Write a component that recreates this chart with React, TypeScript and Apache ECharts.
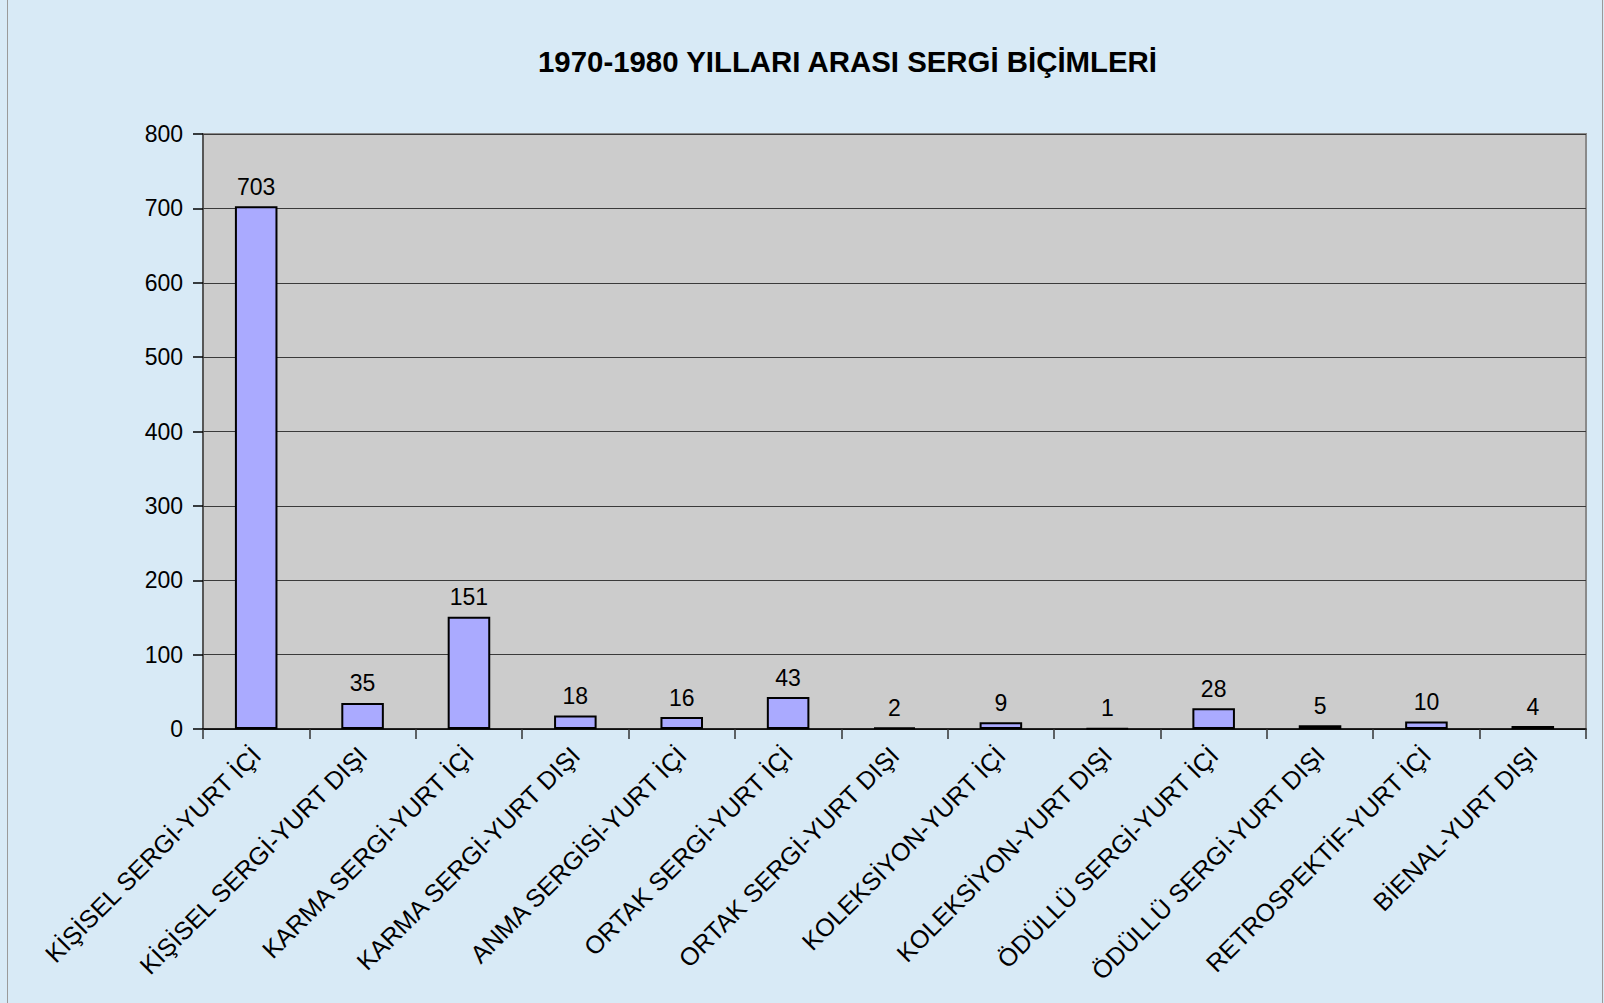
import React, { useEffect, useRef } from "react";
import * as echarts from "echarts";

const titleText = "1970-1980 YILLARI ARASI SERGİ BİÇİMLERİ";
const categories = [
  "KİŞİSEL SERGİ-YURT İÇİ",
  "KİŞİSEL SERGİ-YURT DIŞI",
  "KARMA SERGİ-YURT İÇİ",
  "KARMA SERGİ-YURT DIŞI",
  "ANMA SERGİSİ-YURT İÇİ",
  "ORTAK SERGİ-YURT İÇİ",
  "ORTAK SERGİ-YURT DIŞI",
  "KOLEKSİYON-YURT İÇİ",
  "KOLEKSİYON-YURT DIŞI",
  "ÖDÜLLÜ SERGİ-YURT İÇİ",
  "ÖDÜLLÜ SERGİ-YURT DIŞI",
  "RETROSPEKTİF-YURT İÇİ",
  "BİENAL-YURT DIŞI",
];
const values = [703, 35, 151, 18, 16, 43, 2, 9, 1, 28, 5, 10, 4];
const yMin = 0;
const yMax = 800;
const yStep = 100;

const FONT = "'Liberation Sans', Arial, sans-serif";

export default function App() {
  const ref = useRef<HTMLDivElement>(null);
  useEffect(() => {
    document.body.style.margin = "0";
    const chart = echarts.init(ref.current!, null, { renderer: "svg" });
    chart.setOption({
      animation: false,
      backgroundColor: "#D8EAF6",
      textStyle: { fontFamily: FONT },
      title: {
        text: titleText,
        left: 533,
        top: 42,
        textStyle: { fontFamily: FONT, fontSize: 29.4, fontWeight: "bold", color: "#000" },
      },
      graphic: [
        { type: "line", shape: { x1: 7.5, y1: 0, x2: 7.5, y2: 1003 }, style: { stroke: "#9a9a9a", lineWidth: 1 } },
        { type: "line", shape: { x1: 1602.5, y1: 0, x2: 1602.5, y2: 1003 }, style: { stroke: "#9a9a9a", lineWidth: 1 } },
      ],
      grid: {
        left: 203,
        top: 134,
        right: 18,
        bottom: 274,
        show: true,
        backgroundColor: "#CCCCCC",
        borderColor: "#8a8a8a",
        borderWidth: 2,
      },
      xAxis: {
        type: "category",
        data: categories,
        boundaryGap: true,
        axisLine: { show: true, lineStyle: { color: "#000", width: 1.5 } },
        axisTick: { show: true, length: 10, alignWithLabel: false, lineStyle: { color: "#333", width: 1.5 } },
        axisLabel: {
          rotate: 45,
          interval: 0,
          margin: 22,
          fontSize: 25,
          color: "#000",
          fontFamily: FONT,
        },
      },
      yAxis: {
        type: "value",
        min: yMin,
        max: yMax,
        interval: yStep,
        axisLine: { show: true, lineStyle: { color: "#444", width: 1.5 } },
        axisTick: { show: true, length: 10, lineStyle: { color: "#000", width: 1.5 } },
        axisLabel: { fontSize: 23, color: "#000", margin: 20, fontFamily: FONT },
        splitLine: { show: true, lineStyle: { color: "#3a3a3a", width: 1.2 } },
      },
      series: [
        {
          type: "bar",
          data: values,
          barWidth: "40%",
          itemStyle: { color: "#AAAAFF", borderColor: "#000", borderWidth: 2 },
          label: {
            show: true,
            position: "top",
            distance: 8,
            fontSize: 23,
            color: "#000",
            fontFamily: FONT,
          },
        },
      ],
    });
    return () => chart.dispose();
  }, []);
  return <div ref={ref} style={{ width: 1604, height: 1003 }} />;
}
